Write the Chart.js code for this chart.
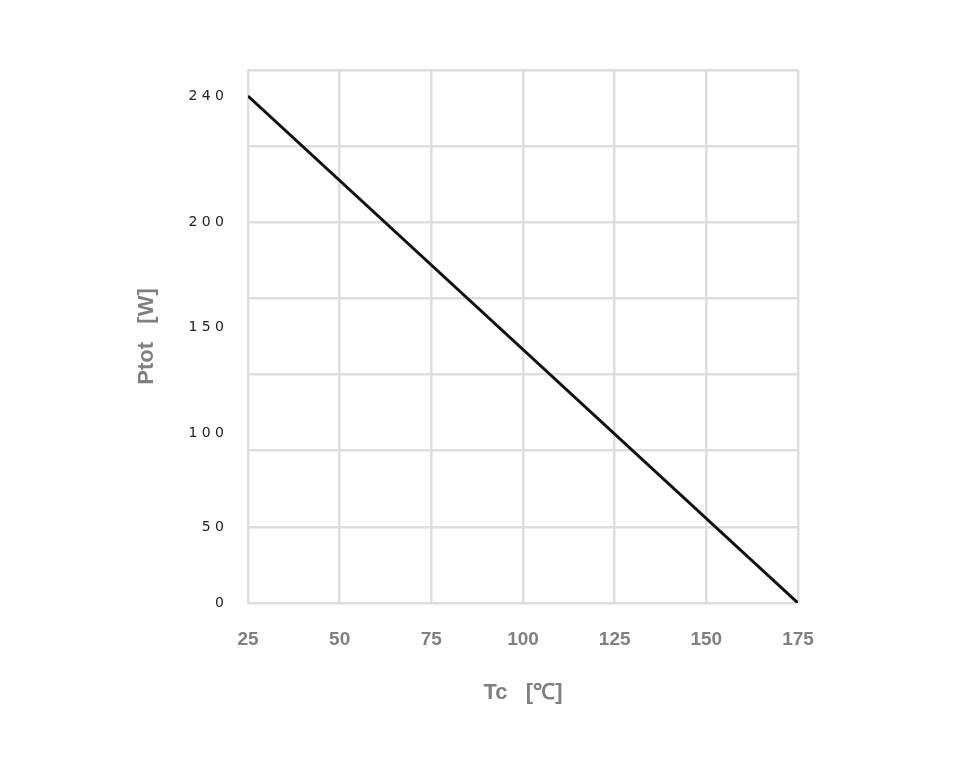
<!DOCTYPE html>
<html>
<head>
<meta charset="utf-8">
<script src="https://cdn.jsdelivr.net/npm/chart.js@4"></script>
<style>
  body { margin: 0; background: #fff; }
  #wrap { width: 960px; height: 760px; }
</style>
</head>
<body>
<div id="wrap"><canvas id="chart"></canvas></div>
<script>
// data
var tcValues = [25, 175];
var ptotValues = [240, 0];
var xTicks = [25, 50, 75, 100, 125, 150, 175];
// y labels sit at irregular heights in the original
var yTickValues = [0, 36, 80.2, 130.4, 180.2, 240];
var yTickLabels = ['0', '5 0', '1 0 0', '1 5 0', '2 0 0', '2 4 0'];
var yGridStep = 36.05;
var yMax = 252.35;

var ctx = document.getElementById('chart');
var chart = new Chart(ctx, {
    type: 'line',
    data: {
        datasets: [{
            data: tcValues.map(function (x, i) { return { x: x, y: ptotValues[i] }; }),
            borderColor: '#111',
            borderWidth: 3,
            pointRadius: 0,
            tension: 0,
            yAxisID: 'y'
        }]
    },
    options: {
        responsive: true,
        maintainAspectRatio: false,
        animation: false,
        layout: { padding: { left: 130, right: 162, top: 70, bottom: 50 } },
        plugins: { legend: { display: false }, tooltip: { enabled: false } },
        scales: {
            x: {
                type: 'linear', min: 25, max: 175,
                afterBuildTicks: function (axis) { axis.ticks = xTicks.map(function (v) { return { value: v }; }); },
                grid: { color: '#dedede', lineWidth: 2.5, drawTicks: false },
                border: { display: false },
                ticks: { color: '#808080', font: { family: 'Liberation Sans', size: 19, weight: 'bold' }, padding: 25 },
                title: { display: true, text: 'Tc   [℃]', color: '#808080', font: { family: 'Liberation Sans', size: 22, weight: 'bold' }, padding: { top: 10 } },
                afterFit: function (axis) { axis.height = 107; }
            },
            y: {
                type: 'linear', min: 0, max: yMax, position: 'left',
                afterBuildTicks: function (axis) {
                    var t = [];
                    for (var i = 0; i <= 7; i++) t.push({ value: i * yGridStep });
                    axis.ticks = t;
                },
                grid: { color: '#dedede', lineWidth: 2.5, drawTicks: false },
                border: { display: false },
                ticks: { display: false },
                afterFit: function (axis) { axis.width = 0; }
            },
            yLabels: {
                type: 'linear', min: 0, max: yMax, position: 'left',
                afterBuildTicks: function (axis) { axis.ticks = yTickValues.map(function (v) { return { value: v }; }); },
                grid: { display: false },
                border: { display: false },
                ticks: {
                    color: '#222', font: { family: 'DejaVu Sans', size: 14 }, padding: 16,
                    callback: function (v, i) { return yTickLabels[i]; }
                },
                title: { display: true, text: 'Ptot   [W]', color: '#808080', font: { family: 'Liberation Sans', size: 22, weight: 'bold' } },
                afterFit: function (axis) { axis.width = 118; }
            }
        }
    }
});
</script>
</body>
</html>
